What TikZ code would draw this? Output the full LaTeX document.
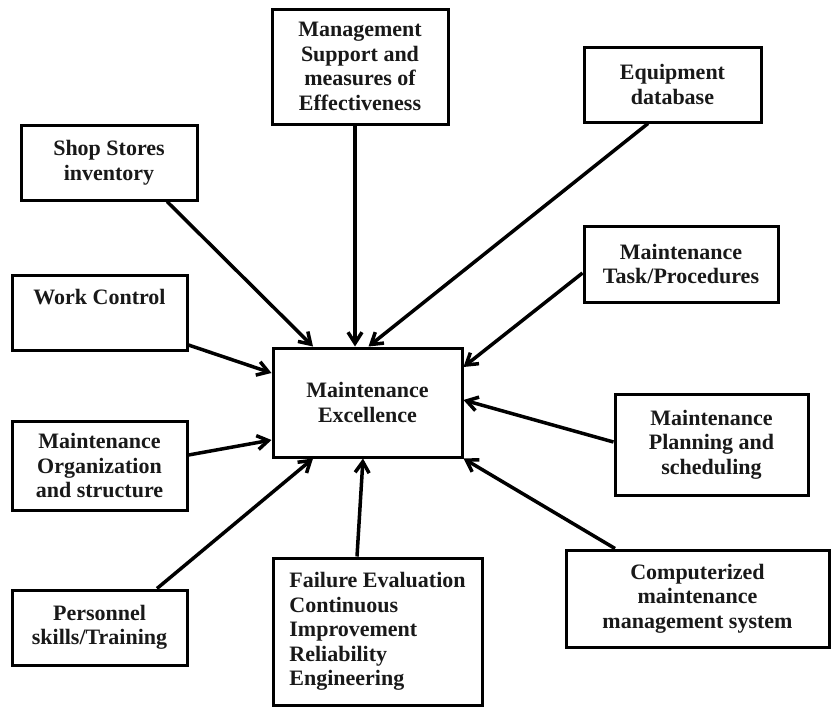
\documentclass[tikz,border=0pt]{standalone}
\usepackage{fontspec}
\setmainfont{Liberation Serif}
\usetikzlibrary{arrows.meta}
\begin{document}
\begin{tikzpicture}[x=1pt,y=-1pt,
  box/.style={draw,line width=3pt,fill=white,inner sep=0pt,align=center,
    text=black!90,font=\bfseries\fontsize{22}{24.5}\selectfont},
  arr/.style={line width=3.5pt,-{Straight Barb[length=11pt,width=14pt]}}]
\useasboundingbox (0,0) rectangle (831,707);
\node[box,minimum width=176pt,minimum height=115pt] (mgmt) at (360,66.5) {Management\\Support and\\measures of\\Effectiveness};
\node[box,minimum width=177pt,minimum height=75pt] (equip) at (672.5,84.5) {Equipment\\database};
\node[box,minimum width=176pt,minimum height=75pt] (shop) at (109,162.5) {Shop Stores\\inventory};
\node[box,minimum width=194pt,minimum height=76pt] (task) at (681,264) {Maintenance\\Task/Procedures};
\node[box,minimum width=175pt,minimum height=75pt] (work) at (99.5,312.5) {Work Control\\\strut};
\node[box,minimum width=189pt,minimum height=109pt] (exc) at (367.5,402.5) {Maintenance\\Excellence};
\node[box,minimum width=175pt,minimum height=89pt] (org) at (99.5,465.5) {Maintenance\\Organization\\and structure};
\node[box,minimum width=193pt,minimum height=101pt] (plan) at (711.5,444.5) {Maintenance\\Planning and\\scheduling};
\node[box,minimum width=263pt,minimum height=97pt] (comp) at (697.5,598.5) {Computerized\\maintenance\\management system};
\node[box,minimum width=175pt,minimum height=75pt] (pers) at (99.5,627.5) {Personnel\\skills/Training};
\node[box,minimum width=209pt,minimum height=147pt,align=left] (fail) at (377.5,631.5) {Failure Evaluation\\Continuous\\Improvement\\Reliability\\Engineering};

\draw[arr] ([xshift=58pt]shop.south) -- ([xshift=-54.5pt]exc.north);
\draw[arr] ([xshift=-5pt]mgmt.south) -- ([xshift=-12.5pt]exc.north);
\draw[arr] ([xshift=-24.5pt]equip.south) -- ([xshift=1pt]exc.north);
\draw[arr] ([yshift=-9pt]task.west) -- ([yshift=35.5pt]exc.east);
\draw[arr] ([yshift=-32.5pt]work.east) -- ([yshift=29.5pt]exc.west);
\draw[arr] ([yshift=10.5pt]org.east) -- ([yshift=-37.5pt]exc.west);
\draw[arr] ([xshift=57.5pt]pers.north) -- ([xshift=-54.5pt]exc.south);
\draw[arr] ([xshift=-20.5pt]fail.north) -- ([xshift=-4.5pt]exc.south);
\draw[arr] ([yshift=2.5pt]plan.west) -- ([yshift=2.5pt]exc.east);
\draw[arr] ([xshift=-82.5pt]comp.north) -- (exc.south east);
\end{tikzpicture}
\end{document}
